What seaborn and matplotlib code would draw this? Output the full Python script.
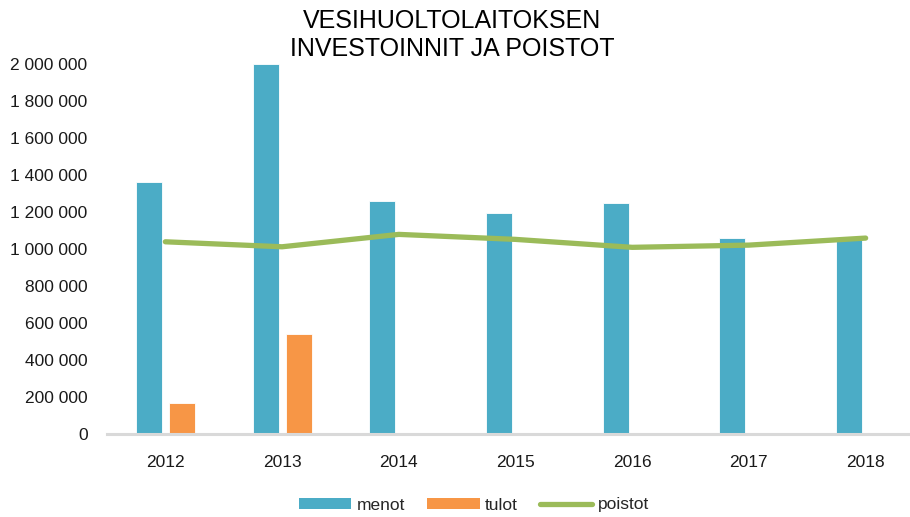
import matplotlib
matplotlib.use("Agg")
import matplotlib.pyplot as plt
from matplotlib.patches import Patch
from matplotlib.lines import Line2D
from matplotlib.ticker import FuncFormatter, MultipleLocator
import pandas as pd
import seaborn as sns

years = ["2012", "2013", "2014", "2015", "2016", "2017", "2018"]
menot = [1363000, 2000000, 1259000, 1194000, 1250000, 1058000, 1050000]
tulot = [167000, 542000, 0, 0, 0, 0, 0]
poistot = [1039000, 1012000, 1079000, 1052000, 1009000, 1021000, 1059000]

title = "VESIHUOLTOLAITOKSEN\nINVESTOINNIT JA POISTOT"
series_names = ["menot", "tulot", "poistot"]
colors = {"menot": "#4BACC6", "tulot": "#F79646", "poistot": "#9BBB59"}

sns.set_theme(style="white")
plt.rcParams["font.family"] = ["Liberation Sans", "DejaVu Sans"]

bars = pd.DataFrame({
    "vuosi": years * 2,
    "sarja": ["menot"] * len(years) + ["tulot"] * len(years),
    "euroa": menot + tulot,
})
line = pd.DataFrame({"vuosi": years, "euroa": poistot})

fig = plt.figure(figsize=(9.10, 5.17), dpi=100)
ax = fig.add_axes([107 / 910, 1 - 434 / 517, (924 - 107) / 910, (434 - 64) / 517])

sns.barplot(data=bars, x="vuosi", y="euroa", hue="sarja", order=years,
            hue_order=["menot", "tulot"], palette=[colors["menot"], colors["tulot"]],
            saturation=1, width=0.564, gap=0.21, errorbar=None, edgecolor="white",
            linewidth=0.6, legend=False, ax=ax)
sns.pointplot(data=line, x="vuosi", y="euroa", order=years, color=colors["poistot"],
              errorbar=None, marker="", linewidth=3.8, solid_capstyle="round",
              solid_joinstyle="round", ax=ax)

ax.set_xlim(-0.5, 6.5)
ax.set_ylim(0, 2000000)
ax.yaxis.set_major_locator(MultipleLocator(200000))
ax.yaxis.set_major_formatter(FuncFormatter(lambda v, p: f"{v:,.0f}".replace(",", " ")))
ax.set_xlabel("")
ax.set_ylabel("")
for s in ["top", "right", "left"]:
    ax.spines[s].set_visible(False)
ax.spines["bottom"].set_color("#D9D9D9")
ax.spines["bottom"].set_linewidth(2.2)
ax.tick_params(axis="both", length=0, labelsize=12.5, labelcolor="#1a1a1a")
ax.tick_params(axis="y", pad=14)
ax.tick_params(axis="x", pad=15)
ax.grid(False)

fig.text(452 / 910, 1 - 9 / 517, title, ha="center", va="top", fontsize=18,
         color="black", linespacing=1.2)

handles = [
    Patch(facecolor=colors["menot"], edgecolor="none"),
    Patch(facecolor=colors["tulot"], edgecolor="none"),
    Line2D([0], [0], color=colors["poistot"], linewidth=3.8, solid_capstyle="round"),
]
fig.legend(handles, series_names, loc="center", bbox_to_anchor=(474 / 910, 1 - 505 / 517),
           ncol=3, frameon=False, fontsize=12.5, handlelength=3.0, handleheight=0.63,
           handletextpad=0.3, columnspacing=1.3)

fig.savefig("out.png", dpi=100)
